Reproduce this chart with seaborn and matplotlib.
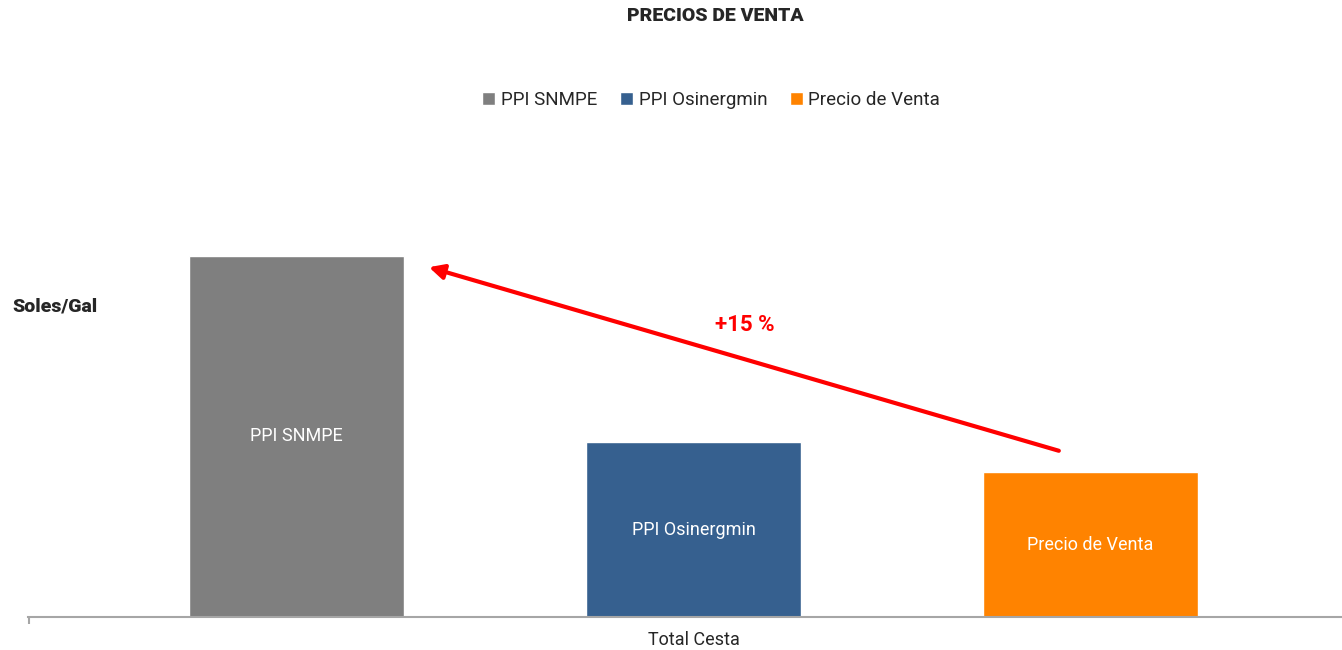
import pandas as pd
import matplotlib.pyplot as plt
import seaborn as sns
from matplotlib.patches import Patch

# Data (axis does not start at zero)
categoria = ['Total Cesta']
series = ['PPI SNMPE', 'PPI Osinergmin', 'Precio de Venta']
valores = [11.5, 10.21, 10.0]
colores = ['#7F7F7F', '#36608F', '#FF8300']
y_min, y_max = 9.0, 12.3

df = pd.DataFrame({'cat': categoria * 3, 'serie': series, 'valor': valores})

sns.set_theme(style='white')
plt.rcParams['font.family'] = ['Roboto', 'DejaVu Sans']

fig = plt.figure(figsize=(13.42, 6.5), dpi=100)
ax = fig.add_axes([28 / 1342, 33 / 650, 1 - 28 / 1342, 477 / 650])

sns.barplot(data=df, x='cat', y='valor', hue='serie', palette=colores,
            width=0.9, gap=0.458, saturation=1, legend=False, ax=ax)

ax.set_ylim(y_min, y_max)
ax.set_xlim(-0.503, 0.49)

# Labels inside the bars
for bar, name in zip(ax.patches, series):
    cx = bar.get_x() + bar.get_width() / 2
    ax.text(cx, (y_min + bar.get_y() + bar.get_height()) / 2, name,
            ha='center', va='center', color='white', fontsize=13)

# Arrow from Precio de Venta to PPI SNMPE
gris, naranja = ax.patches[0], ax.patches[2]
gx = gris.get_x() + gris.get_width() / 2
nx = naranja.get_x() + naranja.get_width() / 2
ax.annotate('', xy=(gx + 0.1, valores[0] - 0.08),
            xytext=(nx - 0.024, valores[2] + 0.15),
            arrowprops=dict(arrowstyle='-|>', color='#FF0000', lw=3,
                            mutation_scale=22, shrinkA=0, shrinkB=0))
pct = (valores[0] / valores[2] - 1) * 100
ax.text(0.039, 11.02, f'+{pct:.0f} %', color='#FF0000', fontsize=16,
        fontweight='bold', ha='center', va='center')

# Axes styling
sns.despine(ax=ax, left=True, top=True, right=True)
ax.spines['bottom'].set_color('#A6A6A6')
ax.spines['bottom'].set_linewidth(1.5)
ax.set_yticks([])
ax.set_xlabel('')
ax.set_ylabel('')
ax.tick_params(axis='x', length=0, labelsize=13, labelcolor='#262626', pad=10)
ax.set_xticks([-0.5025], minor=True)
ax.tick_params(axis='x', which='minor', bottom=True, length=5, width=1.5,
               color='#A6A6A6', direction='out')

fig.text(0.533, 0.975, 'PRECIOS DE VENTA', ha='center', va='center',
         fontsize=14, fontweight='heavy', color='#262626')
fig.text(12 / 1342, 1 - 306 / 650, 'Soles/Gal', ha='left', va='center',
         fontsize=14, fontweight='heavy', color='#262626')

handles = [Patch(facecolor=c, label=s) for c, s in zip(colores, series)]
fig.legend(handles=handles, loc='center', bbox_to_anchor=(0.530, 1 - 100 / 650),
           ncol=3, frameon=False, fontsize=13.5, handlelength=0.7, handleheight=0.7,
           handletextpad=0.3, columnspacing=1.2, labelcolor='#262626')

fig.savefig('out.png', dpi=100)
